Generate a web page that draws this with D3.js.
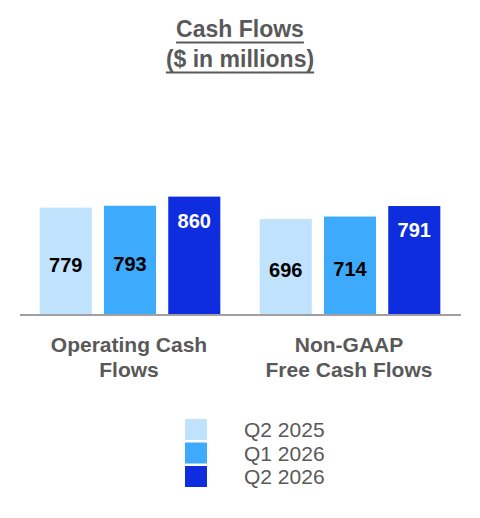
<!DOCTYPE html>
<meta charset="utf-8">
<head>
  <title>Cash Flows</title>
</head>
<style>
body { margin: 0; background: #fff; }
text { font-family: "Liberation Sans", Arial, sans-serif; }
.title { font-size: 23px; font-weight: bold; fill: #595959; }
.cat { font-size: 21px; font-weight: bold; fill: #595959; }
.val { font-size: 20px; font-weight: bold; }
.leg { font-size: 21px; fill: #595959; }
</style>
<body>
<script src="https://d3js.org/d3.v7.min.js"></script>
<script>

// data
var categories = [["Operating Cash", "Flows"], ["Non-GAAP", "Free Cash Flows"]];
var series = ["Q2 2025", "Q1 2026", "Q2 2026"];
var q2_2025 = [779, 696];
var q1_2026 = [793, 714];
var q2_2026 = [860, 791];
var colors = ["#bfe2fd", "#3eaafb", "#0e2ddf"];

var width = 480, height = 518;

var svg = d3.select("body").append("svg")
    .attr("width", width)
    .attr("height", height);

// title, underlined by hand
var titleLines = ["Cash Flows", "($ in millions)"];
titleLines.forEach(function(t, i) {
  var tx = svg.append("text")
      .attr("class", "title")
      .attr("x", 240)
      .attr("y", 37 + i * 30)
      .attr("text-anchor", "middle")
      .text(t);
  var w = tx.node().getComputedTextLength();
  svg.append("line")
      .style("stroke", "#595959")
      .style("stroke-width", "2px")
      .attr("x1", 240 - w / 2)
      .attr("x2", 240 + w / 2)
      .attr("y1", 42.5 + i * 30)
      .attr("y2", 42.5 + i * 30);
});

// scales
var catIdx = d3.range(categories.length);
var x0 = d3.scaleBand().domain(catIdx).range([20, 460]);
var x1 = d3.scaleBand().domain(series).range([0, x0.bandwidth()])
    .paddingInner(0.19).paddingOuter(0.306);
var y = d3.scaleLinear().domain([0, 1000]).range([314, 177.5]);

var table = [q2_2025, q1_2026, q2_2026];
var data = [];
catIdx.forEach(function(c) {
  series.forEach(function(s, j) {
    data.push({cat: c, s: s, j: j, v: table[j][c]});
  });
});

// bars
svg.append("g").selectAll("rect")
    .data(data)
  .enter().append("rect")
    .attr("x", function(d) { return x0(d.cat) + x1(d.s); })
    .attr("y", function(d) { return y(d.v); })
    .attr("width", x1.bandwidth())
    .attr("height", function(d) { return y(0) - y(d.v); })
    .attr("fill", function(d) { return colors[d.j]; });

// value labels: dark series at inside end, others centered
svg.append("g").selectAll("text")
    .data(data)
  .enter().append("text")
    .attr("class", "val")
    .attr("text-anchor", "middle")
    .attr("x", function(d) { return x0(d.cat) + x1(d.s) + x1.bandwidth() / 2; })
    .attr("y", function(d) {
      if (d.j == 2) return y(d.v) + 31;
      return (y(d.v) + y(0)) / 2 + 11;
    })
    .attr("fill", function(d) { return d.j == 2 ? "#fff" : "#000"; })
    .text(function(d) { return d.v; });

// baseline
svg.append("line")
    .style("stroke", "#a0a0a0")
    .style("stroke-width", "2px")
    .attr("x1", 20)
    .attr("x2", 461)
    .attr("y1", y(0) + 1)
    .attr("y2", y(0) + 1);

// category labels
var cl = svg.append("g").selectAll("text")
    .data(catIdx)
  .enter().append("text")
    .attr("class", "cat")
    .attr("text-anchor", "middle")
    .attr("x", function(c) { return x0(c) + x0.bandwidth() / 2 - 1; })
    .attr("y", 352);
cl.selectAll("tspan")
    .data(function(c) { return categories[c]; })
  .enter().append("tspan")
    .attr("x", function() { return d3.select(this.parentNode).attr("x"); })
    .attr("dy", function(d, i) { return i == 0 ? 0 : 24.5; })
    .text(function(d) { return d; });

// legend
var leg = svg.append("g").selectAll("g")
    .data(series)
  .enter().append("g")
    .attr("transform", function(d, i) { return "translate(185," + (419 + i * 23.5) + ")"; });
leg.append("rect")
    .attr("width", 22)
    .attr("height", 21)
    .attr("fill", function(d, i) { return colors[i]; });
leg.append("text")
    .attr("class", "leg")
    .attr("x", 59)
    .attr("y", 18)
    .text(function(d) { return d; });

</script>
</body>
